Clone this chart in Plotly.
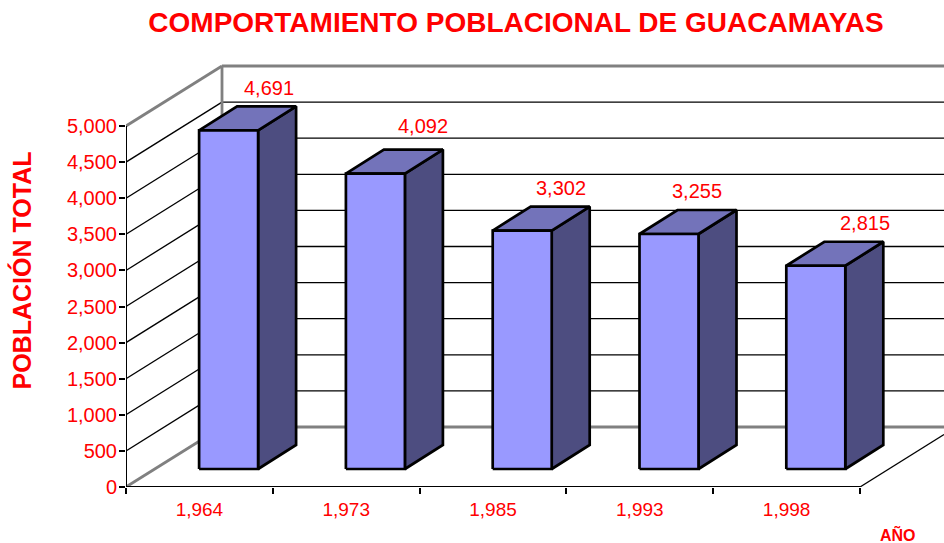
import plotly.graph_objects as go

YEARS = ["1,964", "1,973", "1,985", "1,993", "1,998"]
POPULATION = [4691, 4092, 3302, 3255, 2815]
Y_TICKS = [0, 500, 1000, 1500, 2000, 2500, 3000, 3500, 4000, 4500, 5000]
LABEL_SHIFT_X = [40, 48, 39, 28, 49]
LABEL_SHIFT_Y = [18, 24, 19, 19, 19]

TITLE = "COMPORTAMIENTO POBLACIONAL DE GUACAMAYAS"
Y_TITLE = "POBLACIÓN TOTAL"
X_TITLE = "AÑO"

W, H = 944, 543
LEFT, BOTTOM, TOP = 126, 56, 60
PX_PER_CAT = 146.8
PX_PER_UNIT = 361 / 5000
dx = lambda px: px / PX_PER_CAT
dy = lambda px: px / PX_PER_UNIT

XMAX = (W - LEFT) / PX_PER_CAT
YMAX = (H - BOTTOM - TOP) / PX_PER_UNIT
WALL_X, WALL_Y = dx(96), dy(60)
BASE_X, BASE_Y = dx(29.2), dy(18)
DEPTH_X, DEPTH_Y = dx(38), dy(24)
BAR_W = dx(59)
RED = "#FF0000"
GREY = "#808080"
FONT = "Liberation Sans"


def line(fig, xs, ys, color="#000000", width=1.2):
    fig.add_trace(go.Scatter(x=xs, y=ys, mode="lines", cliponaxis=False, hoverinfo="skip",
                             showlegend=False, line=dict(color=color, width=width)))


def poly(fig, xs, ys, fill):
    fig.add_trace(go.Scatter(x=xs + xs[:1], y=ys + ys[:1], mode="lines", fill="toself", fillcolor=fill,
                             cliponaxis=False, hoverinfo="skip", showlegend=False,
                             line=dict(color="#000000", width=2.7)))


fig = go.Figure()
n = len(YEARS)

for v in Y_TICKS:
    edge = v in (0, 5000)
    c, w = (GREY, 2.8) if edge else ("#000000", 1.3)
    line(fig, [0, WALL_X], [v, v + WALL_Y], c, w)
    line(fig, [WALL_X, XMAX], [v + WALL_Y, v + WALL_Y], c, w)
line(fig, [WALL_X, WALL_X], [WALL_Y, 5000 + WALL_Y], GREY, 2.8)
line(fig, [n, XMAX], [0, (XMAX - n) / WALL_X * WALL_Y], "#000000", 1.3)
line(fig, [0, n], [0, 0], "#000000", 2)
line(fig, [0, 0], [0, 5000], "#000000", 2)

annotations = []
for i, v in enumerate(POPULATION):
    x0 = i + 0.5 + BASE_X - BAR_W / 2
    x1 = x0 + BAR_W
    y0, y1 = BASE_Y, BASE_Y + v
    poly(fig, [x1, x1 + DEPTH_X, x1 + DEPTH_X, x1], [y0, y0 + DEPTH_Y, y1 + DEPTH_Y, y1], "#4D4D80")
    poly(fig, [x0, x1, x1 + DEPTH_X, x0 + DEPTH_X], [y1, y1, y1 + DEPTH_Y, y1 + DEPTH_Y], "#7373BA")
    poly(fig, [x0, x1, x1, x0], [y0, y0, y1, y1], "#9999FF")
    annotations.append(dict(x=i + 0.5 + BASE_X, y=y1 + DEPTH_Y, xref="x", yref="y",
                            text=f"{v:,}", showarrow=False, xshift=LABEL_SHIFT_X[i],
                            yanchor="middle", yshift=LABEL_SHIFT_Y[i],
                            font=dict(family=FONT, size=20, color=RED)))

plot_w, plot_h = W - LEFT, H - BOTTOM - TOP
annotations.append(dict(x=(898 - LEFT) / plot_w, y=(487 - 534) / plot_h,
                        xref="paper", yref="paper", text=f"<b>{X_TITLE}</b>", showarrow=False,
                        xanchor="center", yanchor="middle",
                        font=dict(family=FONT, size=16, color=RED)))
annotations.append(dict(x=(21 - LEFT) / plot_w, y=(487 - 270.5) / plot_h,
                        xref="paper", yref="paper", text=f"<b>{Y_TITLE}</b>", showarrow=False,
                        xanchor="center", yanchor="middle", textangle=-90,
                        font=dict(family=FONT, size=25, color=RED)))

fig.update_layout(
    width=W, height=H, autosize=False,
    margin=dict(l=LEFT, r=0, t=TOP, b=BOTTOM, pad=0),
    paper_bgcolor="white", plot_bgcolor="white", showlegend=False,
    font=dict(family=FONT, color=RED, size=19),
    title=dict(text=f"<b>{TITLE}</b>", x=516 / W, xanchor="center", y=1 - 22 / H, yanchor="middle",
               font=dict(family=FONT, size=28, color=RED)),
    annotations=annotations,
    xaxis=dict(range=[0, XMAX], showgrid=False, zeroline=False, showline=False,
               tickvals=[i + 0.5 for i in range(n)], ticktext=YEARS,
               ticks="outside", ticklen=5, tickcolor="rgba(0,0,0,0)",
               tickfont=dict(family=FONT, size=19, color=RED),
               minor=dict(tickvals=list(range(n + 1)), ticks="outside", ticklen=6,
                          tickcolor="#000000", tickwidth=1.5, showgrid=False)),
    yaxis=dict(range=[0, YMAX], showgrid=False, zeroline=False, showline=False,
               tickvals=Y_TICKS, tickformat=",", ticks="outside", ticklen=6,
               tickcolor="#000000", tickwidth=1.5, ticklabelstandoff=-2,
               tickfont=dict(family=FONT, size=20, color=RED)),
)

fig.write_html("out.html", config=dict(displayModeBar=False),
               post_script="document.body.style.margin='0';document.body.style.overflow='hidden';")
